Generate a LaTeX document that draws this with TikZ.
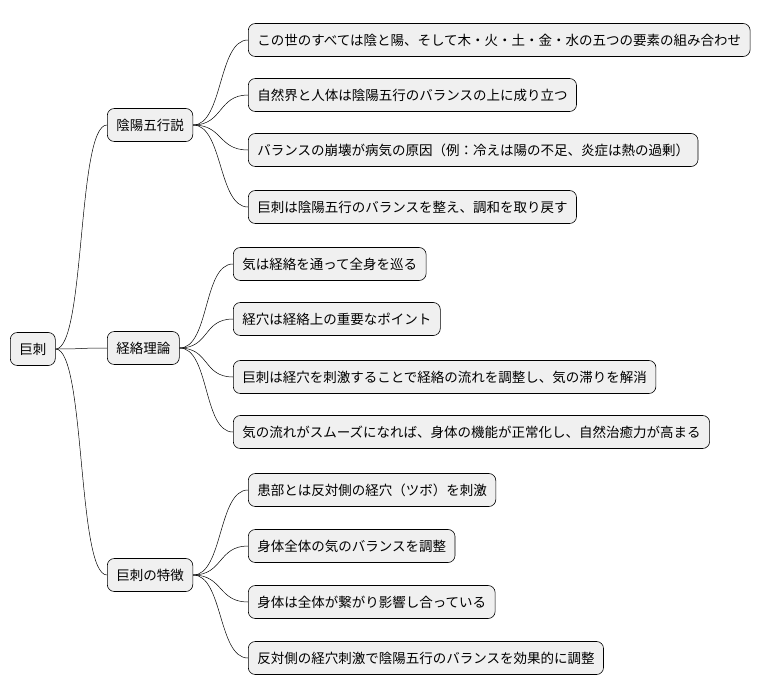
\documentclass[tikz,border=0pt]{standalone}
\usepackage{fontspec}
\setmainfont{Noto Sans CJK JP}
\usetikzlibrary{positioning}
\tikzset{
  topic/.style={draw, rounded corners=7pt, fill=black!6, line width=0.6pt,
    inner xsep=9pt, minimum height=33pt, anchor=west, font=\fontsize{13.5}{16}\selectfont},
  branch/.style={line width=0.5pt}
}
\begin{document}
\begin{tikzpicture}[x=1pt, y=-1pt]
        \useasboundingbox (0,0) rectangle (782,696);
        % root and main topics
        \node[topic] (root) at (10,349) {巨刺};
        \node[topic] (yinyang) at (107,125) {陰陽五行説};
        \node[topic] (meridian) at (107,348) {経絡理論};
        \node[topic] (feature) at (107,575) {巨刺の特徴};
        % 陰陽五行説
        \node[topic] (yy1) at (248,40) {この世のすべては陰と陽、そして木・火・土・金・水の五つの要素の組み合わせ};
        \node[topic] (yy2) at (248,95) {自然界と人体は陰陽五行のバランスの上に成り立つ};
        \node[topic] (yy3) at (248,150) {バランスの崩壊が病気の原因（例：冷えは陽の不足、炎症は熱の過剰）};
        \node[topic] (yy4) at (248,207) {巨刺は陰陽五行のバランスを整え、調和を取り戻す};
        % 経絡理論
        \node[topic] (mr1) at (233,264) {気は経絡を通って全身を巡る};
        \node[topic] (mr2) at (233,319) {経穴は経絡上の重要なポイント};
        \node[topic] (mr3) at (233,377) {巨刺は経穴を刺激することで経絡の流れを調整し、気の滞りを解消};
        \node[topic] (mr4) at (233,432) {気の流れがスムーズになれば、身体の機能が正常化し、自然治癒力が高まる};
        % 巨刺の特徴
        \node[topic] (ft1) at (248,490) {患部とは反対側の経穴（ツボ）を刺激};
        \node[topic] (ft2) at (248,546) {身体全体の気のバランスを調整};
        \node[topic] (ft3) at (248,602) {身体は全体が繋がり影響し合っている};
        \node[topic] (ft4) at (248,658) {反対側の経穴刺激で陰陽五行のバランスを効果的に調整};

        \foreach \a/\b in {root/yinyang, root/meridian, root/feature,
            yinyang/yy1, yinyang/yy2, yinyang/yy3, yinyang/yy4,
            meridian/mr1, meridian/mr2, meridian/mr3, meridian/mr4,
            feature/ft1, feature/ft2, feature/ft3, feature/ft4}
          \draw[branch] (\a.east) .. controls +(30,0) and +(-30,0) .. (\b.west);
    \end{tikzpicture}
\end{document}
